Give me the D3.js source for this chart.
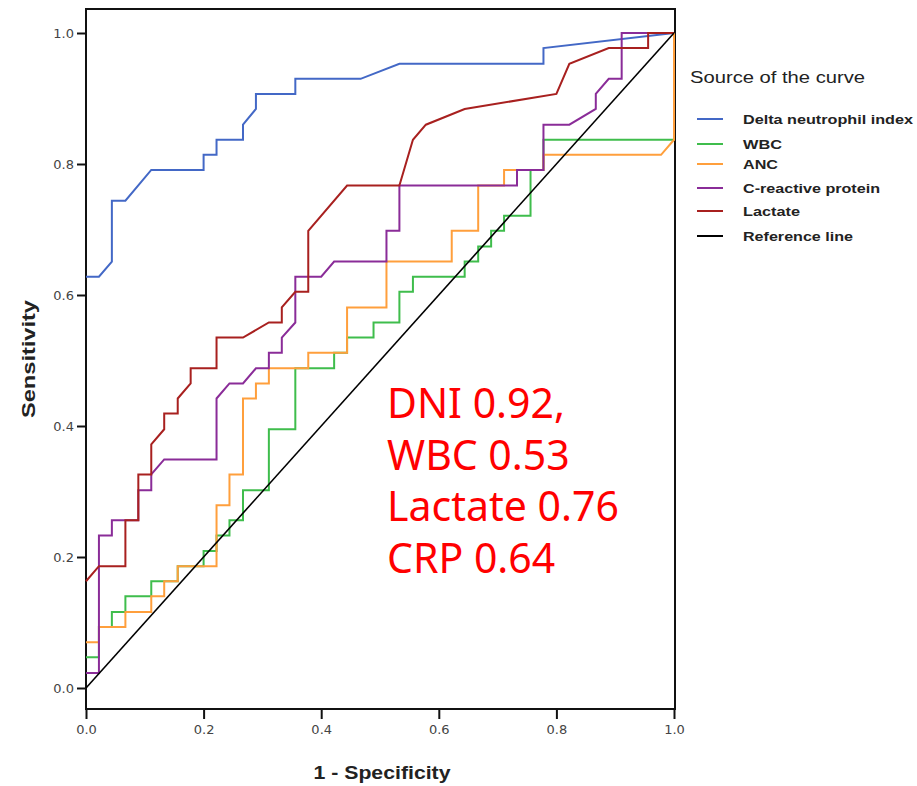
<!DOCTYPE html>
<html><head><meta charset="utf-8">
<script src="https://cdn.jsdelivr.net/npm/d3@7"></script>
<style>body{margin:0;background:#fff}</style>
</head><body>
<svg id="chart" width="917" height="786"></svg>
<script>
// ---- data ----
const seriesNames = ["Delta neutrophil index", "WBC", "ANC", "C-reactive protein", "Lactate", "Reference line"];
const seriesColors = ["#4368c6", "#3fbd4c", "#ff9f3c", "#8a2c98", "#a8201f", "#000000"];

const dniX = [0, .022, .044, .044, .067, .111, .2, .2, .222, .222, .267, .267, .289, .289, .356, .356, .467, .533, .778, .778, 1];
const dniY = [.628, .628, .651, .744, .744, .791, .791, .814, .814, .837, .837, .860, .884, .907, .907, .930, .930, .953, .953, .977, 1];

const wbcX = [0, .022, .022, .044, .044, .067, .067, .111, .111, .156, .156, .2, .2, .222, .222, .244, .244, .267, .267, .311, .311, .356, .356, .422, .422, .444, .444, .489, .489, .533, .533, .556, .556, .644, .644, .667, .667, .689, .689, .711, .711, .756, .756, .778, .778, 1, 1];
const wbcY = [.047, .047, .093, .093, .116, .116, .140, .140, .163, .163, .186, .186, .209, .209, .233, .233, .256, .256, .302, .302, .395, .395, .488, .488, .512, .512, .535, .535, .558, .558, .605, .605, .628, .628, .651, .651, .674, .674, .698, .698, .721, .721, .791, .791, .837, .837, 1];

const ancX = [0, .022, .022, .067, .067, .111, .111, .133, .133, .156, .156, .222, .222, .244, .244, .267, .267, .289, .289, .311, .311, .378, .378, .444, .444, .511, .511, .622, .622, .667, .667, .711, .711, .778, .778, .978, 1, 1];
const ancY = [.070, .070, .093, .093, .116, .116, .140, .140, .163, .163, .186, .186, .279, .279, .326, .326, .442, .442, .465, .465, .488, .488, .512, .512, .581, .581, .651, .651, .698, .698, .767, .767, .791, .791, .814, .814, .837, 1];

const crpX = [0, .022, .022, .044, .044, .089, .089, .111, .111, .133, .222, .222, .244, .267, .289, .311, .311, .333, .333, .356, .356, .4, .422, .511, .511, .533, .533, .733, .733, .778, .778, .822, .867, .867, .889, .911, .911, 1];
const crpY = [.023, .023, .233, .233, .256, .256, .302, .302, .326, .349, .349, .442, .465, .465, .488, .488, .512, .512, .535, .558, .628, .628, .651, .651, .698, .698, .767, .767, .791, .791, .860, .860, .884, .907, .930, .930, 1, 1];

const lacX = [0, .022, .067, .067, .089, .089, .111, .111, .133, .133, .156, .156, .178, .178, .222, .222, .267, .311, .333, .333, .356, .378, .378, .444, .533, .556, .578, .644, .8, .822, .889, .956, .956, 1];
const lacY = [.163, .186, .186, .256, .256, .326, .326, .372, .395, .419, .419, .442, .465, .488, .488, .535, .535, .558, .558, .581, .605, .605, .698, .767, .767, .837, .860, .884, .907, .953, .977, .977, 1, 1];

const refX = [0, 1];
const refY = [0, 1];

const xTicks = [0, 0.2, 0.4, 0.6, 0.8, 1.0];
const yTicks = [0, 0.2, 0.4, 0.6, 0.8, 1.0];
const aucLines = ["DNI 0.92,", "WBC 0.53", "Lactate 0.76", "CRP 0.64"];
const legendTitle = "Source of the curve";
const xTitle = "1 - Specificity";
const yTitle = "Sensitivity";

// ---- drawing ----
const svg = d3.select("#chart");
const x = d3.scaleLinear().domain([0, 1]).range([86, 674]);
const y = d3.scaleLinear().domain([0, 1]).range([688, 33]);
const frame = {left: 86, top: 9, right: 675, bottom: 709};

const series = [
  {xs: dniX, ys: dniY}, {xs: wbcX, ys: wbcY}, {xs: ancX, ys: ancY},
  {xs: crpX, ys: crpY}, {xs: lacX, ys: lacY}, {xs: refX, ys: refY}
];

// frame
svg.append("rect")
  .attr("x", frame.left).attr("y", frame.top)
  .attr("width", frame.right - frame.left).attr("height", frame.bottom - frame.top)
  .attr("fill", "none").attr("stroke", "#111").attr("stroke-width", 2);

// axes
const yAxis = svg.append("g").attr("transform", `translate(${frame.left},0)`)
  .call(d3.axisLeft(y).tickValues(yTicks).tickFormat(d3.format(".1f")).tickSize(9).tickPadding(3));
const xAxis = svg.append("g").attr("transform", `translate(0,${frame.bottom})`)
  .call(d3.axisBottom(x).tickValues(xTicks).tickFormat(d3.format(".1f")).tickSize(10).tickPadding(6));
[yAxis, xAxis].forEach(g => {
  g.select(".domain").remove();
  g.selectAll(".tick line").attr("stroke", "#111").attr("stroke-width", 2);
  g.selectAll(".tick text").attr("font-family", "DejaVu Sans, sans-serif")
    .attr("font-size", 13).attr("fill", "#444");
});

// curves
const line = d3.line().x(d => x(d[0])).y(d => y(d[1]));
series.forEach((s, i) => {
  const pts = s.xs.map((v, k) => [v, s.ys[k]]);
  svg.append("path").datum(pts)
    .attr("d", line)
    .attr("fill", "none")
    .attr("stroke", seriesColors[i])
    .attr("stroke-width", i === 5 ? 1.6 : 2)
    .attr("stroke-linejoin", "miter");
});

// axis titles
svg.append("text")
  .attr("x", 382).attr("y", 779).attr("text-anchor", "middle")
  .attr("font-family", "Liberation Sans, Arial, sans-serif").attr("font-weight", "bold")
  .attr("font-size", 18).attr("fill", "#222")
  .attr("textLength", 137).attr("lengthAdjust", "spacingAndGlyphs")
  .text(xTitle);
svg.append("text")
  .attr("transform", "translate(35,359) rotate(-90)").attr("text-anchor", "middle")
  .attr("font-family", "Liberation Sans, Arial, sans-serif").attr("font-weight", "bold")
  .attr("font-size", 18).attr("fill", "#222")
  .attr("textLength", 118).attr("lengthAdjust", "spacingAndGlyphs")
  .text(yTitle);

// legend
svg.append("text")
  .attr("x", 690).attr("y", 83)
  .attr("font-family", "Liberation Sans, Arial, sans-serif")
  .attr("font-size", 16).attr("fill", "#222")
  .attr("textLength", 175).attr("lengthAdjust", "spacingAndGlyphs")
  .text(legendTitle);
const legendY = [119, 144, 164, 188, 211, 236];
const legendLen = [170, 39, 35, 137, 57, 110];
seriesNames.forEach((name, i) => {
  svg.append("line")
    .attr("x1", 697).attr("x2", 723).attr("y1", legendY[i]).attr("y2", legendY[i])
    .attr("stroke", seriesColors[i]).attr("stroke-width", 2);
  svg.append("text")
    .attr("x", 743).attr("y", legendY[i] + 5)
    .attr("font-family", "Liberation Sans, Arial, sans-serif").attr("font-weight", "bold")
    .attr("font-size", 13).attr("fill", "#222")
    .attr("textLength", legendLen[i]).attr("lengthAdjust", "spacingAndGlyphs")
    .text(name);
});

// AUC annotation
aucLines.forEach((t, i) => {
  svg.append("text")
    .attr("x", 387).attr("y", 418 + i * 51.7)
    .attr("font-family", "Noto Sans, sans-serif")
    .attr("font-size", 41).attr("fill", "#ff0000")
    .text(t);
});
</script>
</body></html>
